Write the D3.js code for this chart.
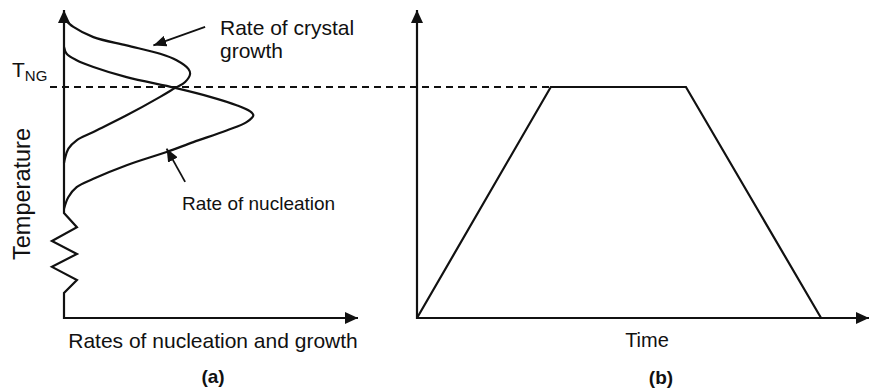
<!DOCTYPE html>
<html><head><meta charset="utf-8">
<script src="https://cdn.jsdelivr.net/npm/d3@7"></script>
<style>
html,body{margin:0;padding:0;background:#fff;}
svg{display:block;}
text{font-family:"Liberation Sans",Arial,sans-serif;fill:#111;}
</style></head>
<body>
<svg id="chart" width="869" height="392"></svg>
<script>
// ---- data (arbitrary units) ----
const TNG = 75; // temperature of the dashed line
// Rate of crystal growth curve: [rate, temperature]
const growthRate = [0, 3.2, 10.0, 21.3, 32.7, 38.3, 42.3, 42.9, 41.2, 37.8, 32.7, 21.3, 10.0, 4.3, 1.5, 0.3, 0];
const growthTemp = [97.2, 94.5, 91.2, 88.5, 85.8, 83.7, 80.9, 79.3, 76.6, 74.7, 71.8, 65.8, 60.4, 57.7, 55.0, 51.7, 50.3];
// Rate of nucleation curve: [rate, temperature]
const nuclRate = [0, 0.9, 4.3, 10.0, 21.3, 37.8, 49.7, 58.7, 63.3, 64.4, 62.1, 55.3, 44.0, 34.9, 21.3, 10.0, 4.3, 1.5, 0];
const nuclTemp = [88.0, 85.8, 83.7, 81.5, 78.2, 74.7, 71.8, 69.1, 67.1, 65.8, 63.6, 60.9, 57.1, 53.9, 49.6, 45.2, 42.5, 39.3, 35.5];
// Axis break (zigzag) on the temperature axis
const breakRate = [0, 4.4, -4.1, 4.4, -4.1, 4.4, 0];
const breakTemp = [34.1, 29.5, 25.0, 20.8, 16.6, 12.3, 8.1];
// Heat-treatment schedule (panel b)
const schedTime = [0, 29.6, 59.5, 89.4];
const schedTemp = [0, TNG, TNG, 0];
// Labels
const labels = {
  growth: ["Rate of crystal", "growth"],
  nucl: "Rate of nucleation",
  xA: "Rates of nucleation and growth",
  yA: "Temperature",
  xB: "Time",
  a: "(a)", b: "(b)"
};

const svg = d3.select("#chart");

// ---- scales ----
const yT = d3.scaleLinear().domain([0, 100]).range([318, 10]);
const xR = d3.scaleLinear().domain([0, 100]).range([64, 358]);
const xTime = d3.scaleLinear().domain([0, 100]).range([417, 869]);

// ---- markers ----
const defs = svg.append("defs");
function marker(id, len, wid) {
  defs.append("marker").attr("id", id)
    .attr("viewBox", `0 ${-wid/2} ${len} ${wid}`)
    .attr("refX", len).attr("refY", 0)
    .attr("markerWidth", len).attr("markerHeight", wid)
    .attr("markerUnits", "userSpaceOnUse")
    .attr("orient", "auto-start-reverse")
    .append("path").attr("d", `M0,${-wid/2}L${len},0L0,${wid/2}Z`).attr("fill", "#111");
}
marker("axArrow", 13, 12);
marker("annArrow", 13, 11);

const line = d3.line().x(d => d[0]).y(d => d[1]);

// ---- panel (a) axes with break ----
const axisA = [[0, 100]].concat(d3.zip(breakRate, breakTemp)).concat([[0, 0], [100, 0]])
  .map(([r, t]) => [xR(r), yT(t)]);
svg.append("path").attr("d", line(axisA))
  .attr("fill", "none").attr("stroke", "#111").attr("stroke-width", 2.2)
  .attr("marker-start", "url(#axArrow)").attr("marker-end", "url(#axArrow)");

// ---- panel (b) axes ----
svg.append("path").attr("d", line([[xTime(0), yT(100)], [xTime(0), yT(0)], [xTime(100), yT(0)]]))
  .attr("fill", "none").attr("stroke", "#111").attr("stroke-width", 2.2)
  .attr("marker-start", "url(#axArrow)").attr("marker-end", "url(#axArrow)");

// ---- dashed T_NG line ----
svg.append("line")
  .attr("x1", 50).attr("x2", xTime(schedTime[1]))
  .attr("y1", yT(TNG)).attr("y2", yT(TNG))
  .attr("stroke", "#111").attr("stroke-width", 2).attr("stroke-dasharray", "7,5");

// ---- curves ----
const curve = d3.line().x(d => xR(d[0])).y(d => yT(d[1])).curve(d3.curveCatmullRom.alpha(0.5));
svg.append("path").attr("d", curve(d3.zip(growthRate, growthTemp)))
  .attr("fill", "none").attr("stroke", "#111").attr("stroke-width", 2.2);
svg.append("path").attr("d", curve(d3.zip(nuclRate, nuclTemp)))
  .attr("fill", "none").attr("stroke", "#111").attr("stroke-width", 2.2);

// ---- schedule ----
svg.append("path").attr("d", d3.line().x(d => xTime(d[0])).y(d => yT(d[1]))(d3.zip(schedTime, schedTemp)))
  .attr("fill", "none").attr("stroke", "#111").attr("stroke-width", 2.2).attr("stroke-linejoin", "miter");

// ---- annotation arrows ----
svg.append("line")
  .attr("x1", xR(48)).attr("y1", yT(94.5)).attr("x2", xR(30.4)).attr("y2", yT(88.5))
  .attr("stroke", "#111").attr("stroke-width", 1.8).attr("marker-end", "url(#annArrow)");
svg.append("line")
  .attr("x1", xR(41.2)).attr("y1", yT(44.2)).attr("x2", xR(34.9)).attr("y2", yT(55.0))
  .attr("stroke", "#111").attr("stroke-width", 1.8).attr("marker-end", "url(#annArrow)");

// ---- texts ----
svg.append("text").attr("x", 220).attr("y", 35).attr("font-size", 21).text(labels.growth[0]);
svg.append("text").attr("x", 220).attr("y", 58).attr("font-size", 21).text(labels.growth[1]);
svg.append("text").attr("x", 182).attr("y", 210).attr("font-size", 19).text(labels.nucl);

const tng = svg.append("text").attr("x", 12).attr("y", 77).attr("font-size", 21);
tng.append("tspan").text("T");
tng.append("tspan").attr("font-size", 15).attr("dy", 4).text("NG");

svg.append("text").attr("transform", "translate(30,194) rotate(-90)")
  .attr("text-anchor", "middle").attr("font-size", 23.5).text(labels.yA);
svg.append("text").attr("x", 213).attr("y", 348).attr("text-anchor", "middle").attr("font-size", 21).text(labels.xA);
svg.append("text").attr("x", 213).attr("y", 383).attr("text-anchor", "middle").attr("font-size", 19).attr("font-weight", "bold").text(labels.a);
svg.append("text").attr("x", 647).attr("y", 347).attr("text-anchor", "middle").attr("font-size", 20).text(labels.xB);
svg.append("text").attr("x", 661).attr("y", 384).attr("text-anchor", "middle").attr("font-size", 19).attr("font-weight", "bold").text(labels.b);
</script>
</body></html>
